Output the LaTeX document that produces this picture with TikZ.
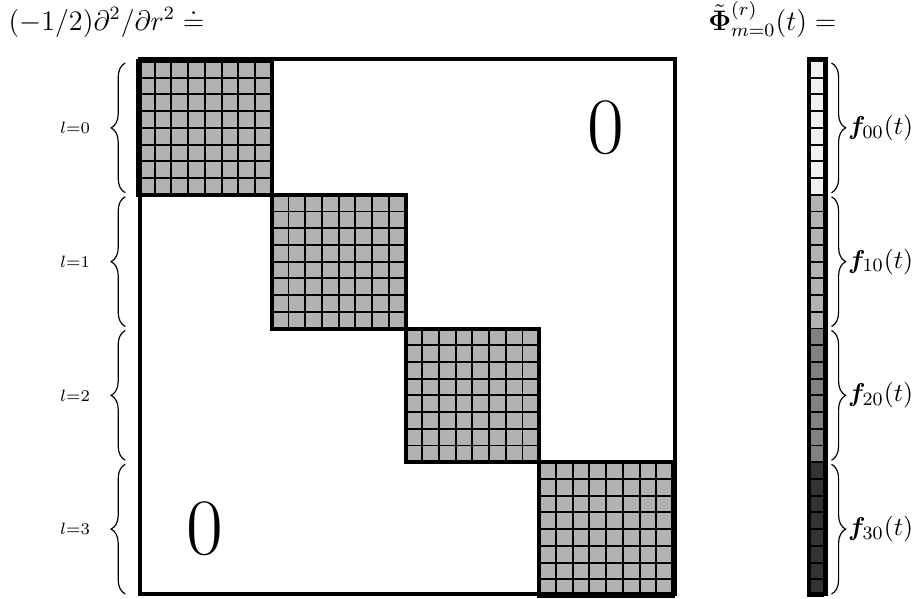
\documentclass[tikz,border=0pt]{standalone}
\usepackage{amsmath,amssymb,bm}
\usetikzlibrary{decorations.pathreplacing}

\def\HamBlockOuterLW{1.7pt}
\def\HamBlockGridLW{0.8pt}
\def\HamBlockBraceLW{0.5pt}
\def\HamBlockCell{0.25}
\newcommand{\HamBlockStyles}{%
  \tikzset{
    hbcell/.style={draw=black, line width=\HamBlockGridLW},
    hbframe/.style={draw=black, line width=\HamBlockOuterLW},
    hbbrace/.style={
      decorate,
      decoration={brace, amplitude=6pt},
      line width=\HamBlockBraceLW},
    hblabel/.style={font=\scriptsize, inner sep=0pt},
    hbflabel/.style={anchor=west, inner sep=0pt, font=\fontsize{11}{13}\selectfont},
    hbtitle/.style={anchor=base west, inner sep=0pt, font=\fontsize{11.5}{14}\selectfont},
    hbzero/.style={font=\fontsize{34}{40}\selectfont, inner sep=0pt},
  }%
}

\begin{document}
\begin{tikzpicture}
    \HamBlockStyles
    \useasboundingbox (-2.063,-0.03) rectangle (11.663,8.912);
    % titles
    \node[hbtitle] (opname) at (-1.94,8.46) {$(-1/2)\partial^2/\partial r^2 \doteq$};
    \node[hbtitle] (vecname) at (8.52,8.46) {$\tilde{\boldsymbol{\Phi}}^{(r)}_{m=0}(t) =$};
    % diagonal blocks
    \foreach \k in {0,...,3} {
      \fill[black!30] (2*\k,6-2*\k) rectangle ++(2,2);
      \draw[hbcell] (2*\k,6-2*\k) grid[step=\HamBlockCell] ++(2,2);
      \draw[hbframe] (2*\k,6-2*\k) rectangle ++(2,2);
    }
    \node[hbframe, minimum size=8cm, inner sep=0pt, anchor=south west] (mat) at (0,0) {};
    \node[hbzero] (zeroup) at (7,7) {0};
    \node[hbzero] (zerolow) at (1,1) {0};
    % vector
    \foreach \k/\shade in {0/6,1/30,2/50,3/80} {
      \fill[black!\shade] (10,6-2*\k) rectangle ++(\HamBlockCell,2);
      \draw[hbcell] (10,6-2*\k) grid[step=\HamBlockCell] ++(\HamBlockCell,2);
    }
    \node[hbframe, minimum width=0.25cm, minimum height=8cm, inner sep=0pt,
      anchor=south west] (vec) at (10,0) {};
    % braces and labels
    \foreach \k in {0,...,3} {
      \coordinate (lbb\k) at (-0.19,6.03-2*\k);
      \coordinate (lbt\k) at (-0.19,7.97-2*\k);
      \draw[hbbrace] (lbb\k) -- (lbt\k);
      \node[hblabel] (lab\k) at (-0.94,7-2*\k) {$l{=}\k$};
      \coordinate (rbt\k) at (10.37,7.97-2*\k);
      \coordinate (rbb\k) at (10.37,6.03-2*\k);
      \draw[hbbrace] (rbt\k) -- (rbb\k);
      \node[hbflabel] (f\k) at (10.61,7-2*\k) {$\bm{f}_{\k0}(t)$};
    }
\end{tikzpicture}
\end{document}
